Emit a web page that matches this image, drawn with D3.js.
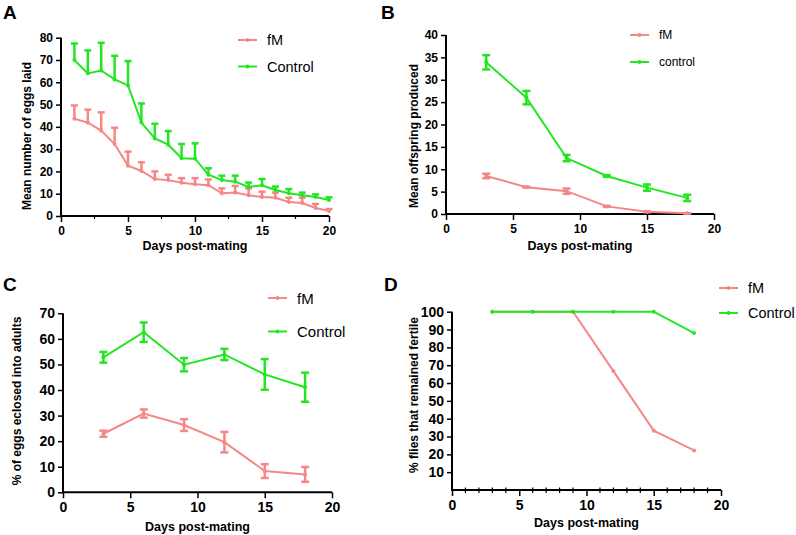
<!DOCTYPE html>
<html>
<head>
<meta charset="utf-8">
<script src="https://cdn.jsdelivr.net/npm/d3@7"></script>
<style>
  body { margin: 0; background: #fff; }
  text { font-family: "Liberation Sans", Arial, sans-serif; fill: #000; }
  .bold { font-weight: bold; }
</style>
</head>
<body>
<div id="chart"></div>
<script>
// colours
const fmColor = "#f58787"
const ctrlColor = "#22e622"

// A: eggs laid per day
const daysA = [1, 2, 3, 4, 5, 6, 7, 8, 9, 10, 11, 12, 13, 14, 15, 16, 17, 18, 19, 20]
const eggsFM = [43.6, 41.9, 38.3, 32.3, 22.6, 20.2, 16.6, 16.1, 14.9, 14.2, 13.8, 10.2, 10.5, 9.3, 8.5, 8.2, 6.3, 5.8, 3.6, 2.2]
const eggsFMErr = [6.0, 5.8, 8.2, 7.3, 6.3, 3.9, 3.4, 2.4, 2.1, 2.8, 2.6, 2.2, 3.0, 3.1, 2.4, 2.3, 1.9, 2.4, 1.8, 0.9]
const eggsCtrl = [70, 64, 65.3, 61.3, 58.6, 41.9, 34.8, 32, 25.9, 25.7, 18.5, 16.1, 15.4, 13, 13.8, 11.7, 10.2, 9.3, 8.5, 7.2]
const eggsCtrlErr = [7.4, 10.3, 12.4, 10.6, 10.9, 8.6, 6.6, 6.1, 6.4, 6.9, 2.9, 2.0, 2.7, 2.0, 2.8, 1.5, 1.9, 1.2, 1.2, 1.2]

// B, C, D share the sampling days
const days = [3, 6, 9, 12, 15, 18]
const offFM = [8.5, 6.0, 5.1, 1.7, 0.5, 0.15]
const offFMErr = [0.5, 0.1, 0.6, 0.1, 0.1, 0.05]
const offCtrl = [33.9, 26, 12.5, 8.5, 5.9, 3.6]
const offCtrlErr = [1.6, 1.5, 0.7, 0.2, 0.7, 0.7]

const eclFM = [22.9, 30.8, 26.3, 19.6, 8.3, 7.0]
const eclFMErr = [1.2, 1.6, 2.3, 4.0, 2.7, 2.9]
const eclCtrl = [52.8, 62.6, 49.9, 53.9, 46.1, 41.1]
const eclCtrlErr = [2.1, 3.8, 2.6, 2.2, 6.0, 5.7]

const fertFM = [100, 100, 100, 66.7, 33.3, 22.2]
const fertCtrl = [100, 100, 100, 100, 100, 88]

const xTicks = [0, 5, 10, 15, 20]

const svg = d3.select("#chart").append("svg")
    .attr("width", 796)
    .attr("height", 535)

function drawPanel(p) {
  const g = svg.append("g")
  const x = d3.scaleLinear().domain([0, 20]).range([p.left, p.right])
  const y = d3.scaleLinear().domain([0, p.yMax]).range([p.bottom, p.top])

  // panel letter
  g.append("text").attr("class", "bold")
    .attr("x", p.letterX).attr("y", p.letterY)
    .style("font-size", "19px")
    .text(p.letter)

  // x axis
  const xAxis = g.append("g")
    .attr("transform", `translate(0,${p.bottom})`)
    .call(d3.axisBottom(x).tickValues(xTicks).tickSize(6).tickPadding(4).tickFormat(d => String(d)))
  xAxis.select(".domain").attr("stroke-width", 2).attr("d", `M${p.left},0H${p.right}`)
  xAxis.selectAll(".tick line").attr("stroke-width", 1.5)
  xAxis.selectAll(".tick text").attr("class", "bold").style("font-size", p.tickFont + "px")
  if (p.minor) {
    p.minor.forEach(v => {
      xAxis.append("line")
        .attr("x1", x(v)).attr("x2", x(v))
        .attr("y1", p.minorCross ? -2.5 : 0).attr("y2", 3)
        .attr("stroke", "#000").attr("stroke-width", 1.2)
    })
  }

  // y axis
  const yAxis = g.append("g")
    .attr("transform", `translate(${p.left},0)`)
    .call(d3.axisLeft(y).tickValues(p.yTicks).tickSize(5).tickPadding(3).tickFormat(d => String(d)))
  yAxis.select(".domain").attr("stroke-width", 2).attr("d", `M0,${p.bottom + 1}V${p.top}`)
  yAxis.selectAll(".tick line").attr("stroke-width", 1.5)
  yAxis.selectAll(".tick text").attr("class", "bold").style("font-size", p.tickFont + "px")

  // axis titles
  g.append("text").attr("class", "bold")
    .attr("x", (p.left + p.right) / 2).attr("y", p.xTitleY)
    .attr("text-anchor", "middle")
    .style("font-size", "12.5px")
    .text("Days post-mating")
  g.append("text").attr("class", "bold")
    .attr("transform", `translate(${p.yTitleX},${p.yTitleMid}) rotate(-90)`)
    .attr("text-anchor", "middle")
    .attr("dominant-baseline", "middle")
    .style("font-size", p.yTitleFont + "px")
    .text(p.yTitle)

  const line = d3.line().x(d => x(d.day)).y(d => y(d.v))

  p.series.forEach(s => {
    const pts = s.days.map((d, i) => ({ day: d, v: s.values[i], e: s.errors ? s.errors[i] : 0 }))
    const sg = g.append("g")
    sg.append("path")
      .attr("d", line(pts))
      .attr("fill", "none")
      .attr("stroke", s.color)
      .attr("stroke-width", 2)
    if (s.errors) {
      pts.forEach(d => {
        const top = y(d.v + d.e)
        const bot = p.upOnly ? y(d.v) : y(d.v - d.e)
        sg.append("line")
          .attr("x1", x(d.day)).attr("x2", x(d.day))
          .attr("y1", top).attr("y2", bot)
          .attr("stroke", s.color).attr("stroke-width", 2.5)
        const caps = p.upOnly ? [top] : [top, bot]
        caps.forEach(cy => {
          sg.append("line")
            .attr("x1", x(d.day) - p.cap / 2).attr("x2", x(d.day) + p.cap / 2)
            .attr("y1", cy).attr("y2", cy)
            .attr("stroke", s.color).attr("stroke-width", 2.5)
        })
      })
    }
    pts.forEach(d => {
      sg.append("circle")
        .attr("cx", x(d.day)).attr("cy", y(d.v))
        .attr("r", 2)
        .attr("fill", s.color)
    })
  })

  // legend
  p.series.forEach((s, i) => {
    const ly = p.legendY[i]
    g.append("line")
      .attr("x1", p.legendX).attr("x2", p.legendX + 19)
      .attr("y1", ly).attr("y2", ly)
      .attr("stroke", s.color).attr("stroke-width", 2)
    g.append("circle")
      .attr("cx", p.legendX + 9.5).attr("cy", ly).attr("r", 2)
      .attr("fill", s.color)
    g.append("text")
      .attr("x", p.legendX + 29).attr("y", ly)
      .attr("dominant-baseline", "central")
      .style("font-size", p.legendFont + "px")
      .text(s.name)
  })
}

drawPanel({
  letter: "A", letterX: 3, letterY: 19,
  left: 61, right: 329, top: 37.7, bottom: 216,
  yMax: 80, yTicks: [0, 10, 20, 30, 40, 50, 60, 70, 80],
  minor: [2.5, 7.5, 12.5, 17.5],
  tickFont: 12, xTitleY: 250,
  yTitle: "Mean number of eggs laid", yTitleX: 28, yTitleMid: 136, yTitleFont: 12,
  upOnly: true, cap: 7,
  legendX: 238, legendY: [40, 66.5], legendFont: 14.5,
  series: [
    { name: "fM", color: fmColor, days: daysA, values: eggsFM, errors: eggsFMErr },
    { name: "Control", color: ctrlColor, days: daysA, values: eggsCtrl, errors: eggsCtrlErr }
  ]
})

drawPanel({
  letter: "B", letterX: 381, letterY: 19,
  left: 446, right: 714, top: 35, bottom: 214,
  yMax: 40, yTicks: [0, 5, 10, 15, 20, 25, 30, 35, 40],
  tickFont: 12, xTitleY: 250,
  yTitle: "Mean offspring produced", yTitleX: 415, yTitleMid: 136, yTitleFont: 12,
  upOnly: false, cap: 8,
  legendX: 630, legendY: [35, 62], legendFont: 12,
  series: [
    { name: "fM", color: fmColor, days: days, values: offFM, errors: offFMErr },
    { name: "control", color: ctrlColor, days: days, values: offCtrl, errors: offCtrlErr }
  ]
})

drawPanel({
  letter: "C", letterX: 3, letterY: 291,
  left: 63, right: 332, top: 313.3, bottom: 492.3,
  yMax: 70, yTicks: [0, 10, 20, 30, 40, 50, 60, 70],
  tickFont: 14, xTitleY: 531,
  yTitle: "% of eggs eclosed into adults", yTitleX: 18, yTitleMid: 401, yTitleFont: 12,
  upOnly: false, cap: 8,
  legendX: 268, legendY: [298, 331.5], legendFont: 15,
  series: [
    { name: "fM", color: fmColor, days: days, values: eclFM, errors: eclFMErr },
    { name: "Control", color: ctrlColor, days: days, values: eclCtrl, errors: eclCtrlErr }
  ]
})

drawPanel({
  letter: "D", letterX: 384, letterY: 291,
  left: 452, right: 721, top: 311.7, bottom: 490,
  yMax: 100, yTicks: [10, 20, 30, 40, 50, 60, 70, 80, 90, 100],
  minor: [1, 2, 3, 4, 6, 7, 8, 9, 11, 12, 13, 14, 16, 17, 18, 19], minorCross: true,
  tickFont: 14, xTitleY: 527,
  yTitle: "% flies that remained fertile", yTitleX: 415, yTitleMid: 395, yTitleFont: 12,
  upOnly: false, cap: 8,
  legendX: 719, legendY: [288, 313], legendFont: 14.5,
  series: [
    { name: "fM", color: fmColor, days: days, values: fertFM },
    { name: "Control", color: ctrlColor, days: days, values: fertCtrl }
  ]
})
</script>
</body>
</html>
